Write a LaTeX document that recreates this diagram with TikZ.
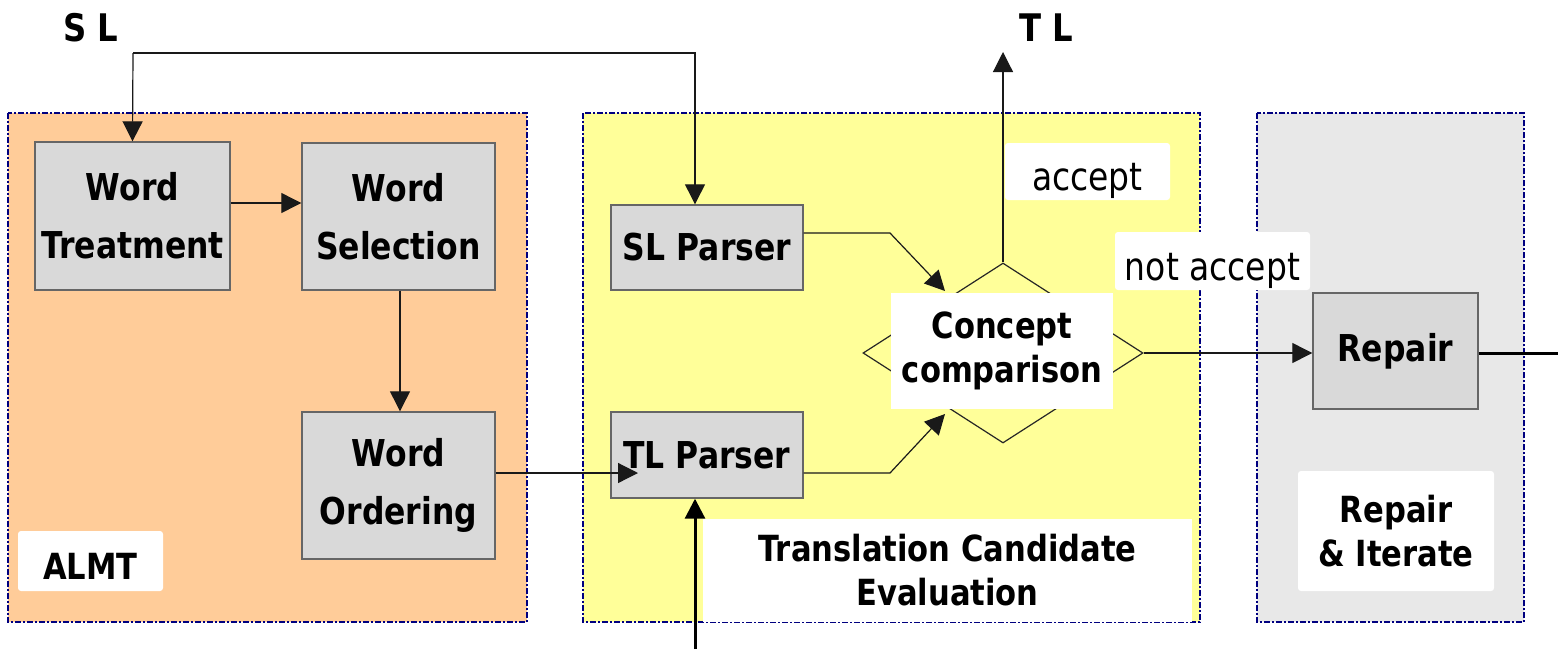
\documentclass[tikz,border=0pt]{standalone}
\usepackage{fontspec}
\setmainfont{DejaVu Sans}[FakeStretch=0.85]
\usetikzlibrary{shapes.geometric,arrows.meta}
\definecolor{orangebg}{HTML}{FFCC99}
\definecolor{yellowbg}{HTML}{FFFF99}
\definecolor{graybg}{HTML}{E8E8E8}
\definecolor{boxgray}{HTML}{D9D9D9}
\definecolor{navyb}{HTML}{000080}
\tikzset{
  panel/.style={draw=navyb, line width=0.7pt, dash pattern=on 3pt off 1pt on 1pt off 1pt},
  procbox/.style={draw=black!60, fill=boxgray, line width=0.7pt, inner sep=0pt, align=center,
    font=\bfseries\fontsize{18.5}{29}\selectfont},
  labelbox/.style={fill=white, rounded corners=1.5pt, inner sep=0pt, align=center},
  boldlabel/.style={font=\bfseries\fontsize{18}{22}\selectfont},
  plainlabel/.style={font=\fontsize{19.4}{22}\selectfont},
  conn/.style={draw=black!90, line width=0.6pt, -{Triangle[length=10pt,width=10pt]}},
  thickconn/.style={draw=black, line width=1.5pt, -{Triangle[length=10pt,width=10pt]}},
}
\begin{document}
\begin{tikzpicture}[x=0.5pt, y=-0.5pt]
\useasboundingbox (0,0) rectangle (1558,649);

% panels
\path[panel, fill=orangebg] (8,113) rectangle (527,622);
\path[panel, fill=yellowbg] (583,113) rectangle (1200,622);
\path[panel, fill=graybg] (1257,113) rectangle (1524,622);

% panel labels
\node[labelbox, boldlabel, minimum width=72.5pt, text height=24pt, text depth=6pt] (almt) at (90.5,561) {ALMT};
\node[labelbox, boldlabel, minimum width=244.5pt, minimum height=51.5pt, rounded corners=0pt] (tce) at (947.5,570.5) {Translation Candidate\\Evaluation};
\node[labelbox, boldlabel, minimum width=98pt, minimum height=60pt] (ri) at (1396,531) {Repair\\\& Iterate};
\node[labelbox, plainlabel, minimum width=82.5pt, text height=23.5pt, text depth=5pt] (acc) at (1087.5,171.5) {accept};
\node[labelbox, plainlabel, minimum width=97.5pt, text height=24pt, text depth=5pt] (nacc) at (1212.5,261) {not accept};

% top labels
\node[font=\bfseries\fontsize{19}{22}\selectfont] (sl) at (91,28) {S L};
\node[font=\bfseries\fontsize{19}{22}\selectfont] (tl) at (1046,28) {T L};

% process boxes
\node[procbox, minimum width=97.5pt, minimum height=74pt] (wt) at (132.5,216) {Word\\Treatment};
\node[procbox, minimum width=96.5pt, minimum height=73.5pt] (ws) at (398.5,216.5) {Word\\Selection};
\node[procbox, minimum width=96.5pt, minimum height=73.5pt] (wo) at (398.5,485.5) {Word\\Ordering};
\node[procbox, minimum width=96pt, minimum height=42.5pt] (slp) at (707,247.5) {SL Parser};
\node[procbox, minimum width=96pt, minimum height=43pt] (tlp) at (707,455) {TL Parser};
\node[procbox, minimum width=82.5pt, minimum height=58pt] (rep) at (1395.5,351) {Repair};

% decision
\node[diamond, draw=black!85, line width=0.6pt, minimum width=140pt, minimum height=90pt, inner sep=0pt] (dia) at (1003,353) {};
\node[fill=white, inner sep=0pt, minimum width=111pt, minimum height=58pt, align=center,
  font=\bfseries\fontsize{18}{22}\selectfont] (cc) at (1002,351) {Concept\\comparison};

% coordinates for free ends
\coordinate (slA) at (133,53);
\coordinate (slB) at (695,53);
\coordinate (tltip) at (1003,52);
\coordinate (tlin) at (638,473);
\coordinate (bot) at (695,649);
\coordinate (k1) at (890,233);
\coordinate (k1tip) at (945,291);
\coordinate (k2) at (890,473);
\coordinate (k2tip) at (945,414);
\coordinate (outR) at (1558,353);

% connectors
\draw[conn] (slA) -- (wt.north);
\draw[conn] (slA) -- (slB) -- (slB |- slp.north);
\draw[conn] (wt.east |- 0,203) -- (ws.west |- 0,203);
\draw[conn] (ws.south -| 400,0) -- (wo.north -| 400,0);
\draw[conn] (wo.east |- 0,473) -- (tlin);
\draw[thickconn] (bot) -- (bot |- tlp.south);
\draw[conn] (slp.east |- 0,233) -- (k1) -- (k1tip);
\draw[conn] (tlp.east |- 0,473) -- (k2) -- (k2tip);
\draw[conn] (dia.north) -- (tltip);
\draw[conn] (dia.east) -- (rep.west |- dia.east);
\draw[black, line width=1.5pt] (rep.east |- dia.east) -- (outR);
\end{tikzpicture}
\end{document}
